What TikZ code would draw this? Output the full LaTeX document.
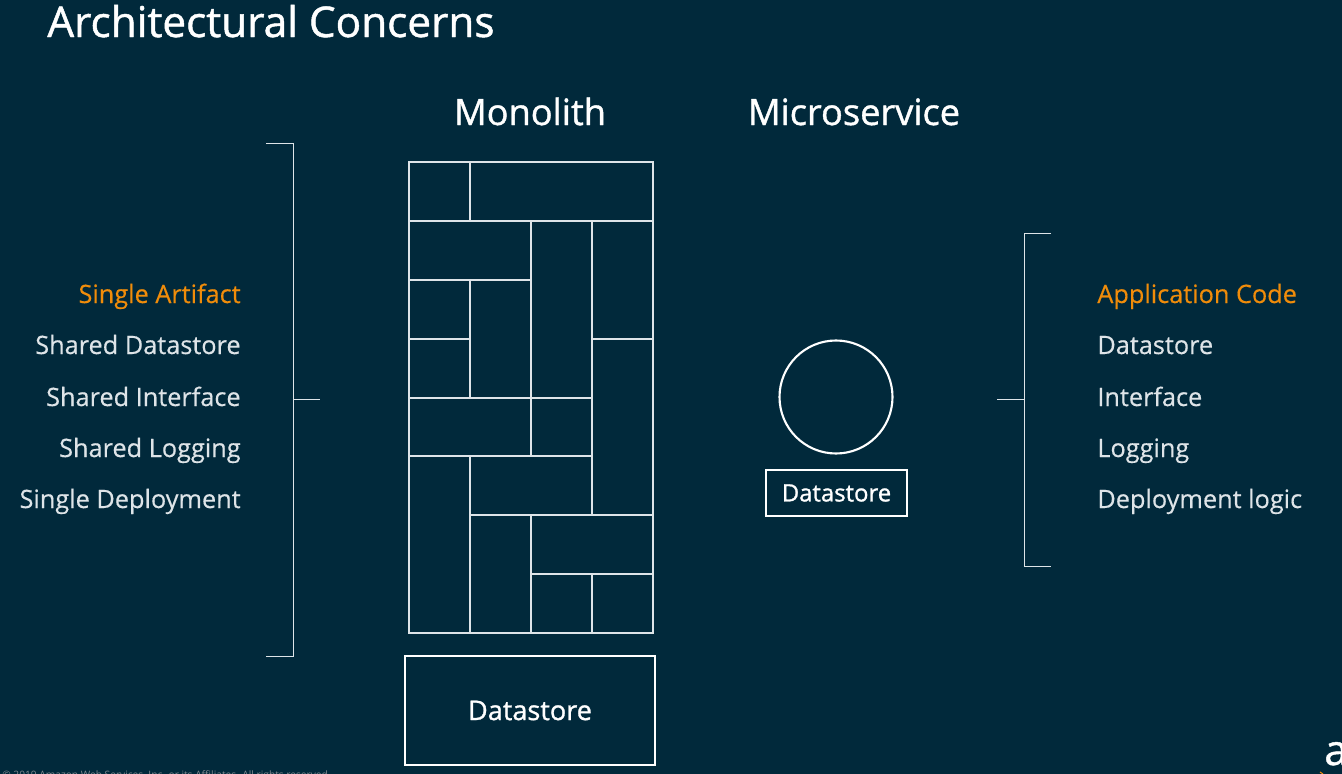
\documentclass[tikz,border=0pt]{standalone}
\usepackage{fontspec}
\setmainfont{Open Sans}
\newfontfamily\headfont[FakeBold=1.1]{Open Sans}
\newfontfamily\itemfont[FakeBold=0.4]{Open Sans}
\usetikzlibrary{positioning}
\definecolor{awsnavy}{RGB}{1,41,59}
\definecolor{awsorange}{RGB}{240,140,10}
\definecolor{awsgrey}{RGB}{125,135,142}
\definecolor{awsline}{RGB}{222,228,232}

\begin{document}
\begin{tikzpicture}[
    x=0.02cm, y=-0.02cm,
    cellbox/.style={rectangle, draw=awsline, line width=1.5pt, inner sep=0pt},
    storebox/.style={rectangle, draw=white, line width=1.2pt, inner sep=0pt, text=white},
    heading/.style={anchor=base, text=white, font=\headfont\fontsize{20.6}{24}\selectfont, inner sep=0pt},
    itemleft/.style={anchor=base east, text=awsline, font=\itemfont\fontsize{14.4}{17}\selectfont, inner sep=0pt},
    itemright/.style={anchor=base west, text=awsline, font=\itemfont\fontsize{14.4}{17}\selectfont, inner sep=0pt},
    bracket/.style={draw=awsline, line width=0.55pt}
]
    \clip (0,0) rectangle (1342,774);
    \fill[awsnavy] (0,0) rectangle (1342,774);

    \node[heading, anchor=base west, font=\headfont\fontsize{24.1}{28}\selectfont] (title) at (47,37) {Architectural Concerns};
    \node[heading] (mono) at (530,125) {Monolith};
    \node[heading] (micro) at (854,125) {Microservice};

    % monolith blocks: x0/y0/x1/y1
    \foreach \xa/\ya/\xb/\yb in {
        409/162/470/221, 470/162/653/221,
        409/221/531/280, 531/221/592/398, 592/221/653/339,
        409/280/470/339, 470/280/531/398, 409/339/470/398,
        592/339/653/515, 409/398/531/456, 531/398/592/456,
        409/456/470/633, 470/456/592/515, 470/515/531/633,
        531/515/653/574, 531/574/592/633, 592/574/653/633}
        \draw[cellbox] (\xa,\ya) rectangle (\xb,\yb);

    \node[storebox, minimum width=0.02cm*250, minimum height=0.02cm*109,
        font=\headfont\fontsize{15.4}{18}\selectfont] (bigstore) at (530,710.5) {Datastore};

    \node[circle, draw=white, line width=1.2pt, minimum size=0.02cm*113, inner sep=0pt] (svc) at (836,397) {};
    \node[storebox, minimum width=0.02cm*141, minimum height=0.02cm*46,
        font=\headfont\fontsize{13.6}{17}\selectfont] (smallstore) at (836.5,493) {Datastore};

    % left list
    \node[itemleft, text=awsorange] (artifact) at (241,303) {Single Artifact};
    \node[itemleft] (shstore) at (241,354) {Shared Datastore};
    \node[itemleft] (shiface) at (241,406) {Shared Interface};
    \node[itemleft] (shlog) at (241,457) {Shared Logging};
    \node[itemleft] (deploy) at (241,508) {Single Deployment};

    % right list
    \node[itemright, text=awsorange] (appcode) at (1097,303) {Application Code};
    \node[itemright] (store) at (1097,354) {Datastore};
    \node[itemright] (iface) at (1097,406) {Interface};
    \node[itemright] (logging) at (1097,457) {Logging};
    \node[itemright] (logic) at (1097,508) {Deployment logic};

    % brackets
    \draw[bracket] (266,143) -- (293,143) -- (293,656) -- (266,656);
    \draw[bracket] (293,399) -- (320,399);
    \draw[bracket] (1051,233) -- (1024,233) -- (1024,566) -- (1051,566);
    \draw[bracket] (1024,399) -- (997,399);

    % footer, cut by the page edge
    \node[anchor=base west, text=awsgrey, font=\fontsize{5.8}{7}\selectfont, inner sep=0pt] (legal) at (2,778.5)
        {© 2019 Amazon Web Services, Inc. or its Affiliates. All rights reserved.};
    \node[anchor=base west, text=white, font=\headfont\fontsize{24}{28}\selectfont, inner sep=0pt] (logo) at (1324,765) {a};
    \draw[awsorange, line width=0.6pt] (1320,772) -- (1323,774);
\end{tikzpicture}
\end{document}
